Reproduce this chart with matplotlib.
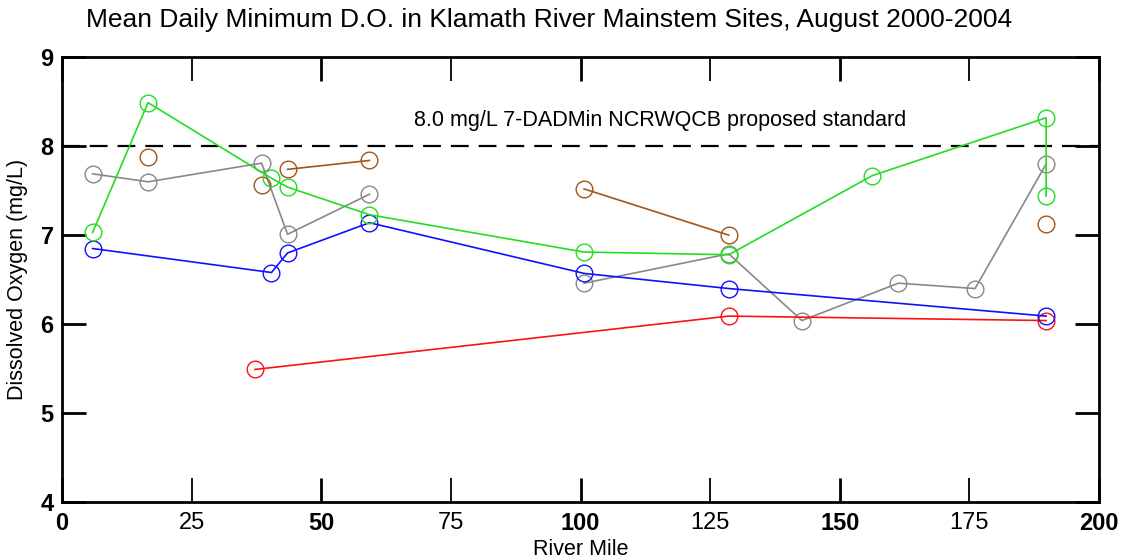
import matplotlib
matplotlib.use("Agg")
import matplotlib.pyplot as plt
import numpy as np

plt.rcParams["font.family"] = ["Liberation Sans", "DejaVu Sans"]

nan = np.nan

# River mile / mean daily minimum D.O. per series (NaN breaks the line)
green_x = [5.9, 16.6, 40.4, 43.5, 59.3, 100.7, 128.6, 156.3, 189.8, 189.8]
green_y = [7.03, 8.49, 7.64, 7.54, 7.23, 6.81, 6.78, 7.67, 8.32, 7.44]

blue_x = [5.9, 40.4, 43.5, 59.3, 100.7, 128.6, 189.8]
blue_y = [6.85, 6.58, 6.80, 7.14, 6.57, 6.40, 6.09]

gray_x = [5.9, 16.6, 38.5, 43.5, 59.3, 80.0, 100.7, 128.6, 142.7, 161.3, 176.1, 189.8]
gray_y = [7.69, 7.60, 7.81, 7.01, 7.46, nan, 6.46, 6.79, 6.04, 6.46, 6.40, 7.80]

red_x = [37.2, 128.6, 189.8]
red_y = [5.49, 6.09, 6.04]

brown_x = [16.6, 27.0, 38.5, 41.0, 43.5, 59.3, 80.0, 100.7, 128.6, 160.0, 189.8]
brown_y = [7.88, nan, 7.56, nan, 7.74, 7.84, nan, 7.52, 7.00, nan, 7.13]

standard = 8.0

series = [
    (gray_x, gray_y, "#888888"),
    (brown_x, brown_y, "#a0561a"),
    (red_x, red_y, "#ff1010"),
    (blue_x, blue_y, "#1010ff"),
    (green_x, green_y, "#22dd22"),
]

fig = plt.figure(figsize=(11.25, 5.6), dpi=100)
ax = fig.add_axes([0.0551, 0.1036, 0.9218, 0.7941])

for xs, ys, c in series:
    ax.plot(xs, ys, color=c, lw=1.2, marker="o", ms=12, mfc="none",
            mec=c, mew=1.0)

ax.axhline(standard, color="black", lw=1.6, ls=(0, (8, 4.5)), zorder=1)
ax.text(115.3, 8.29, "8.0 mg/L 7-DADMin NCRWQCB proposed standard",
        ha="center", va="center", fontsize=15.5)

ax.set_xlim(0, 200)
ax.set_ylim(4, 9)
ax.set_xticks([0, 50, 100, 150, 200])
ax.set_xticks([25, 75, 125, 175], minor=True)
ax.set_xticklabels(["0", "50", "100", "150", "200"], fontweight="bold", fontsize=17)
ax.set_xticklabels(["25", "75", "125", "175"], minor=True, fontsize=17)
ax.set_yticks([4, 5, 6, 7, 8, 9])
ax.set_yticklabels(["4", "5", "6", "7", "8", "9"], fontweight="bold", fontsize=17)

ax.tick_params(which="both", direction="in", top=True, right=True, length=17)
ax.tick_params(which="major", width=2)
ax.tick_params(which="minor", width=1.3)
ax.tick_params(axis="y", pad=6)
ax.tick_params(axis="x", which="both", pad=7)
for s in ax.spines.values():
    s.set_linewidth(2)

ax.set_xlabel("River Mile", fontsize=15.5, labelpad=3)
ax.set_ylabel("Dissolved Oxygen (mg/L)", fontsize=15.5, labelpad=9)
fig.text(0.488, 0.965, "Mean Daily Minimum D.O. in Klamath River Mainstem Sites, August 2000-2004",
         ha="center", va="center", fontsize=19)

fig.savefig("out.png", dpi=100)
